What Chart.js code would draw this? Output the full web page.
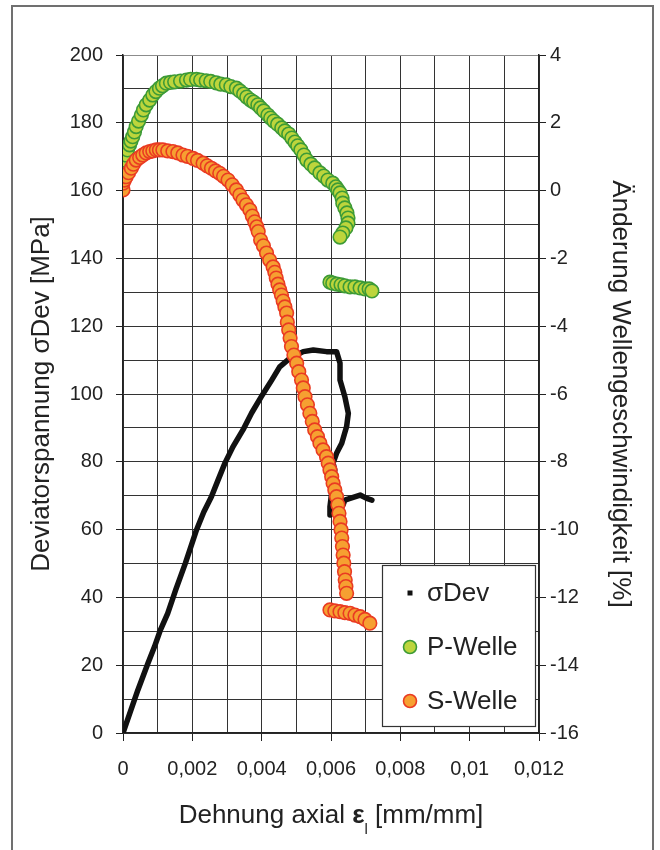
<!DOCTYPE html>
<html>
<head>
<meta charset="utf-8">
<script src="https://cdn.jsdelivr.net/npm/chart.js@4.4.1/dist/chart.umd.min.js"></script>
<style>
  html, body { margin: 0; padding: 0; background: #fff; width: 660px; height: 850px; overflow: hidden; }
  #frame { position: absolute; left: 11px; top: 5px; width: 639px; height: 900px; border: 2px solid #707070; }
  #chart { position: absolute; left: 0; top: 0; }
</style>
</head>
<body>
<div id="frame"></div>
<canvas id="chart" width="660" height="850"></canvas>
<script>
// σDev curve (strain [mm/mm], stress [MPa], left axis)
const strainDev = [0, 0.00022, 0.00043, 0.00072, 0.00091, 0.00108, 0.00129, 0.00152, 0.00180, 0.00212,
  0.00233, 0.00255, 0.00273, 0.00294, 0.00317, 0.00346, 0.00371, 0.00399, 0.00429, 0.00452,
  0.00481, 0.00520, 0.00549, 0.00587, 0.00616, 0.00626, 0.00626, 0.00640, 0.00650, 0.00645,
  0.00631, 0.00616, 0.00606, 0.00611, 0.00603, 0.00597, 0.00597, 0.00635, 0.00640, 0.00655,
  0.00684, 0.00703, 0.00718];
const stressDev = [0, 6.5, 12.7, 20.6, 25.5, 30.4, 35.3, 42.2, 50.1, 59.9,
  65.2, 69.7, 74.3, 79.6, 84.4, 89.4, 94.4, 99.2, 104.1, 108.0,
  110.5, 112.5, 113.0, 112.5, 112.5, 109.1, 104.1, 99.2, 94.3, 90.4,
  85.5, 82.5, 79.6, 77.6, 71.7, 66.7, 64.3, 67.3, 68.7, 69.2,
  70.2, 69.2, 68.7];

// P-Welle (strain, velocity change [%], right axis)
const strainP = [0.00000, 0.00000, 0.00004, 0.00009, 0.00013, 0.00019, 0.00023, 0.00028, 0.00033, 0.00038,
  0.00045, 0.00053, 0.00059, 0.00067, 0.00077, 0.00086, 0.00095, 0.00105, 0.00114, 0.00125,
  0.00137, 0.00149, 0.00166, 0.00183, 0.00195, 0.00212, 0.00224, 0.00240, 0.00253, 0.00269,
  0.00282, 0.00298, 0.00311, 0.00327, 0.00337, 0.00348, 0.00357, 0.00368, 0.00377, 0.00389,
  0.00397, 0.00406, 0.00418, 0.00426, 0.00435, 0.00446, 0.00458, 0.00467, 0.00478, 0.00487,
  0.00496, 0.00504, 0.00513, 0.00522, 0.00530, 0.00542, 0.00553, 0.00568, 0.00579, 0.00591,
  0.00605, 0.00614, 0.00620, 0.00626, 0.00632, 0.00634, 0.00640, 0.00646, 0.00649, 0.00649,
  0.00643, 0.00634, 0.00626, 0.00597, 0.00605, 0.00617, 0.00629, 0.00640, 0.00655, 0.00669,
  0.00684, 0.00698, 0.00710, 0.00718];
const changeP = [0.52, 0.76, 0.90, 1.05, 1.20, 1.35, 1.46, 1.59, 1.73, 1.89,
  2.05, 2.23, 2.38, 2.53, 2.67, 2.82, 2.92, 3.02, 3.09, 3.17,
  3.19, 3.21, 3.23, 3.26, 3.28, 3.28, 3.26, 3.24, 3.22, 3.18,
  3.14, 3.12, 3.07, 3.02, 2.94, 2.85, 2.76, 2.67, 2.61, 2.53,
  2.44, 2.35, 2.23, 2.14, 2.05, 1.96, 1.85, 1.76, 1.67, 1.55,
  1.43, 1.32, 1.20, 1.05, 0.90, 0.78, 0.67, 0.52, 0.43, 0.31,
  0.22, 0.11, 0.02, -0.07, -0.22, -0.37, -0.51, -0.66, -0.81, -0.96,
  -1.10, -1.25, -1.37, -2.70, -2.73, -2.76, -2.78, -2.81, -2.84, -2.84,
  -2.87, -2.90, -2.90, -2.96];

// S-Welle (strain, velocity change [%], right axis)
const strainS = [0.00000, 0.00000, 0.00004, 0.00009, 0.00016, 0.00024, 0.00030, 0.00038, 0.00048, 0.00057,
  0.00067, 0.00077, 0.00086, 0.00096, 0.00105, 0.00115, 0.00129, 0.00144, 0.00158, 0.00173,
  0.00186, 0.00202, 0.00215, 0.00231, 0.00243, 0.00255, 0.00267, 0.00279, 0.00290, 0.00303,
  0.00315, 0.00327, 0.00337, 0.00346, 0.00356, 0.00366, 0.00373, 0.00380, 0.00386, 0.00390,
  0.00397, 0.00405, 0.00414, 0.00423, 0.00433, 0.00438, 0.00442, 0.00447, 0.00452, 0.00457,
  0.00462, 0.00467, 0.00472, 0.00474, 0.00478, 0.00482, 0.00486, 0.00493, 0.00501, 0.00507,
  0.00515, 0.00520, 0.00525, 0.00532, 0.00539, 0.00546, 0.00553, 0.00561, 0.00568, 0.00577,
  0.00587, 0.00592, 0.00597, 0.00602, 0.00606, 0.00611, 0.00616, 0.00620, 0.00623, 0.00626,
  0.00629, 0.00631, 0.00633, 0.00635, 0.00637, 0.00639, 0.00641, 0.00643, 0.00645, 0.00597,
  0.00611, 0.00626, 0.00640, 0.00655, 0.00669, 0.00684, 0.00698, 0.00712];
const changeS = [0.02, 0.22, 0.31, 0.41, 0.53, 0.66, 0.78, 0.90, 0.98, 1.05,
  1.11, 1.15, 1.17, 1.20, 1.20, 1.20, 1.17, 1.15, 1.11, 1.05,
  1.01, 0.95, 0.89, 0.81, 0.73, 0.66, 0.58, 0.51, 0.42, 0.31,
  0.17, 0.02, -0.13, -0.28, -0.42, -0.57, -0.75, -0.92, -1.07, -1.21,
  -1.46, -1.63, -1.84, -2.05, -2.25, -2.41, -2.58, -2.76, -2.93, -3.08,
  -3.26, -3.43, -3.61, -3.88, -4.11, -4.35, -4.60, -4.85, -5.09, -5.34,
  -5.59, -5.82, -6.08, -6.32, -6.57, -6.81, -7.06, -7.26, -7.45, -7.65,
  -7.85, -8.04, -8.24, -8.44, -8.63, -8.83, -9.03, -9.27, -9.52, -9.76,
  -10.01, -10.25, -10.50, -10.75, -10.99, -11.24, -11.49, -11.68, -11.88, -12.37,
  -12.40, -12.42, -12.45, -12.47, -12.52, -12.57, -12.65, -12.76];

// axis ranges
const strainRange = [0, 0.012];
const stressRange = [0, 200];
const changeRange = [-16, 4];

const family = '"Liberation Sans", Arial, sans-serif';
const textColor = '#222';
const gridColor = '#333';

const toPoints = (xs, ys) => xs.map((x, i) => ({ x: x, y: ys[i] }));
const formatStrain = v => v === 0 ? '0' : String(Number(v.toFixed(4))).replace('.', ',');

// legend drawn inside the plot area, bottom right
const insideLegend = {
  id: 'insideLegend',
  afterDraw(chart) {
    const { ctx, chartArea: a } = chart;
    const bx = a.right - 157, by = a.bottom - 168, bw = 153, bh = 161;
    ctx.save();
    ctx.fillStyle = '#fff';
    ctx.fillRect(bx, by, bw, bh);
    ctx.strokeStyle = '#333';
    ctx.lineWidth = 1.2;
    ctx.strokeRect(bx + 0.5, by + 0.5, bw, bh);
    ctx.font = '26px ' + family;
    ctx.textBaseline = 'middle';
    chart.data.datasets.forEach((ds, i) => {
      const cx = bx + 28, cy = by + 28 + i * 54;
      if (ds.showLine) {
        ctx.fillStyle = ds.borderColor;
        ctx.fillRect(cx - 2.5, cy - 2.5, 5, 5);
      } else {
        ctx.beginPath();
        ctx.arc(cx, cy, 6.5, 0, Math.PI * 2);
        ctx.fillStyle = ds.backgroundColor;
        ctx.fill();
        ctx.lineWidth = 1.6;
        ctx.strokeStyle = ds.borderColor;
        ctx.stroke();
      }
      ctx.fillStyle = textColor;
      ctx.fillText(ds.label, bx + 45, cy + 1);
    });
    ctx.restore();
  }
};

// x axis title with bold epsilon and subscript l
const xTitle = {
  id: 'xTitle',
  afterDraw(chart) {
    const { ctx, chartArea: a } = chart;
    const parts = [
      { t: 'Dehnung axial ', f: '26px ' + family, dy: 0 },
      { t: 'ε', f: 'bold 26px ' + family, dy: 0 },
      { t: 'l', f: '15px ' + family, dy: 11 },
      { t: ' [mm/mm]', f: '26px ' + family, dy: 0 }
    ];
    ctx.save();
    ctx.fillStyle = textColor;
    ctx.textBaseline = 'alphabetic';
    let total = 0;
    parts.forEach(p => { ctx.font = p.f; p.w = ctx.measureText(p.t).width; total += p.w; });
    let x = (a.left + a.right) / 2 - total / 2;
    const y = a.bottom + 90;
    parts.forEach(p => { ctx.font = p.f; ctx.fillText(p.t, x, y + p.dy); x += p.w; });
    ctx.restore();
  }
};

const ctx = document.getElementById('chart').getContext('2d');
const chart = new Chart(ctx, {
  type: 'scatter',
  data: {
    datasets: [
      {
        label: 'σDev',
        data: toPoints(strainDev, stressDev),
        showLine: true,
        borderColor: '#111',
        backgroundColor: '#111',
        borderWidth: 5.5,
        borderJoinStyle: 'round',
        borderCapStyle: 'round',
        pointRadius: 0,
        yAxisID: 'y',
        order: 3
      },
      {
        label: 'P-Welle',
        data: toPoints(strainP, changeP),
        backgroundColor: '#bdd53c',
        borderColor: '#3d9b36',
        borderWidth: 1.6,
        pointRadius: 6.8,
        yAxisID: 'y2',
        order: 2
      },
      {
        label: 'S-Welle',
        data: toPoints(strainS, changeS),
        backgroundColor: '#f6a031',
        borderColor: '#ea3b22',
        borderWidth: 1.6,
        pointRadius: 6.8,
        yAxisID: 'y2',
        order: 1
      }
    ]
  },
  options: {
    responsive: false,
    animation: false,
    devicePixelRatio: 1,
    layout: { padding: { top: 55, left: 0, right: 0, bottom: 0 } },
    plugins: { legend: { display: false }, tooltip: { enabled: false } },
    scales: {
      x: {
        type: 'linear',
        min: strainRange[0], max: strainRange[1],
        ticks: {
          stepSize: 0.001, autoSkip: false, maxRotation: 0, padding: 16,
          color: textColor, font: { size: 20, family: family },
          callback: (v, i) => i % 2 === 0 ? formatStrain(v) : ''
        },
        grid: {
          color: gridColor, lineWidth: 1, tickLength: 8,
          tickColor: c => c.index % 2 === 0 ? '#222' : 'rgba(0,0,0,0)'
        },
        border: { color: '#222', width: 1.5 },
        afterFit: s => { s.height = 117; }
      },
      y: {
        position: 'left',
        min: stressRange[0], max: stressRange[1],
        ticks: {
          stepSize: 10, autoSkip: false, padding: 13,
          color: textColor, font: { size: 20, family: family },
          callback: v => v % 20 === 0 ? String(v) : ''
        },
        grid: {
          color: c => c.tick && c.tick.value === 200 ? '#8c8c8c' : gridColor,
          lineWidth: 1, tickLength: 7,
          tickColor: c => c.tick && c.tick.value % 20 === 0 ? '#222' : 'rgba(0,0,0,0)'
        },
        border: { color: '#222', width: 1.5 },
        title: {
          display: true, text: 'Deviatorspannung σDev [MPa]', color: textColor,
          font: { size: 26, family: family }, padding: { top: 26, bottom: 0 }
        },
        afterFit: s => { s.width = 123; }
      },
      y2: {
        position: 'right',
        min: changeRange[0], max: changeRange[1],
        ticks: {
          stepSize: 2, autoSkip: false, padding: 4,
          color: textColor, font: { size: 20, family: family }
        },
        grid: { drawOnChartArea: false, tickLength: 7, tickColor: '#222' },
        border: { color: '#222', width: 1.5 },
        title: {
          display: true, text: 'Änderung Wellengeschwindigkeit [%]', color: textColor,
          font: { size: 26, family: family }, padding: { top: 24, bottom: 0 }
        },
        afterFit: s => { s.width = 121; }
      }
    }
  },
  plugins: [insideLegend, xTitle]
});
</script>
</body>
</html>
